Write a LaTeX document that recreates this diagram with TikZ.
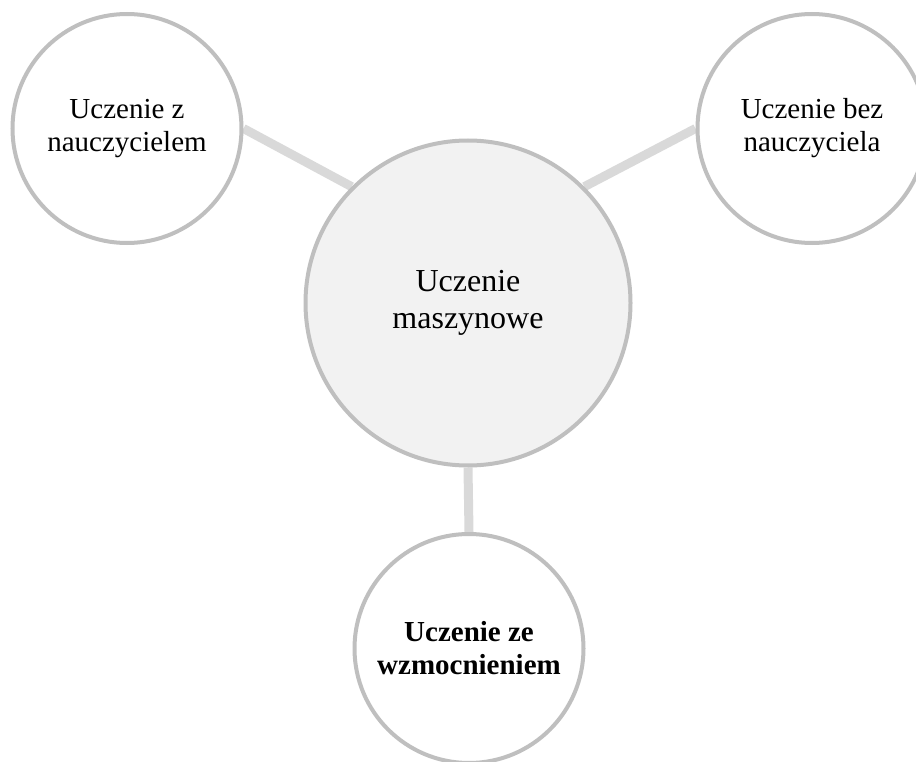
\documentclass[tikz,border=0pt]{standalone}
\usepackage{fontspec}
\setmainfont{Liberation Serif}
\usetikzlibrary{backgrounds}
\definecolor{ringgray}{HTML}{BFBFBF}
\definecolor{linkgray}{HTML}{D9D9D9}
\definecolor{hubfill}{HTML}{F2F2F2}
\begin{document}
\begin{tikzpicture}[x=1pt,y=-1pt,
  outer/.style={circle,draw=ringgray,line width=4pt,fill=white,inner sep=0pt,
    minimum size=229pt,align=center,font=\fontsize{29}{33}\selectfont},
  hub/.style={circle,draw=ringgray,line width=4pt,fill=hubfill,inner sep=0pt,
    minimum size=325pt,align=center,font=\fontsize{32}{37}\selectfont},
  link/.style={draw=linkgray,line width=9pt}]
\useasboundingbox (0,0) rectangle (916,762);
\node[hub] (c) at (468,303) {Uczenie\\maszynowe};
\node[outer] (tl) at (127,128.5) {Uczenie z\\nauczycielem};
\node[outer] (tr) at (812,128.5) {Uczenie bez\\nauczyciela};
\node[outer,font=\fontsize{29}{33}\selectfont\bfseries] (b) at (469,648.5) {Uczenie ze\\wzmocnieniem};
\begin{scope}[on background layer]
\draw[link] (tl.east) -- (c.135);
\draw[link] (tr.west) -- (c.45);
\draw[link] (c.south) -- (b.north);
\end{scope}
\end{tikzpicture}
\end{document}
